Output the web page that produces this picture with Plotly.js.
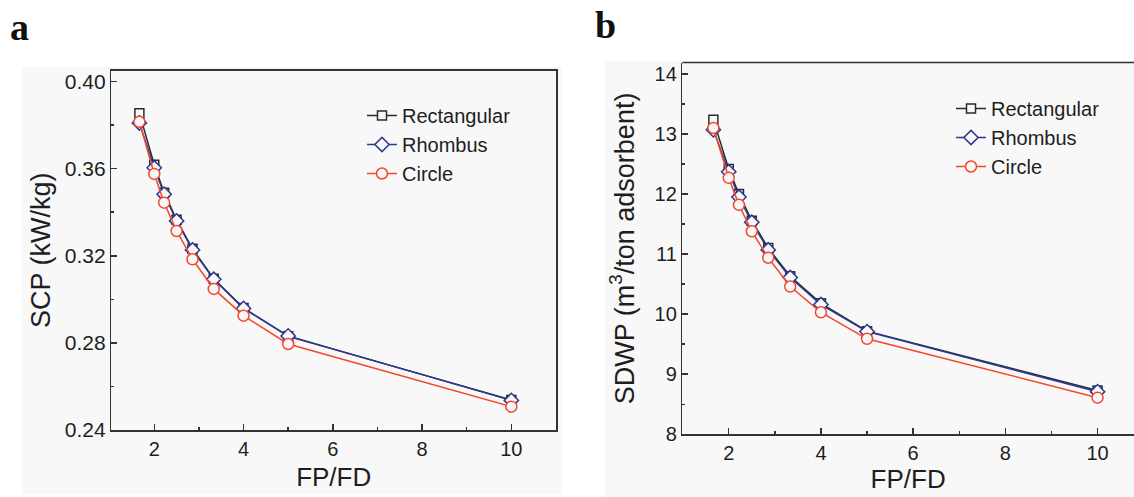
<!DOCTYPE html>
<html>
<head>
<meta charset="utf-8">
<script src="https://cdn.plot.ly/plotly-3.0.1.min.js"></script>
<style>html,body{margin:0;padding:0;background:#fff;}#chart{width:1134px;height:497px;}</style>
</head>
<body>
<div id="chart"></div>
<script>
// FP/FD ratios
const fpfd = [1.667, 2.0, 2.222, 2.5, 2.857, 3.333, 4.0, 5.0, 10.0];
// Panel a: SCP (kW/kg)
const scpRect    = [0.3855, 0.3618, 0.3490, 0.3365, 0.3232, 0.3095, 0.2960, 0.2830, 0.2538];
const scpRhombus = [0.3810, 0.3604, 0.3483, 0.3360, 0.3227, 0.3092, 0.2958, 0.2832, 0.2536];
const scpCircle  = [0.3815, 0.3576, 0.3444, 0.3314, 0.3184, 0.3048, 0.2925, 0.2795, 0.2507];
// Panel b: SDWP (m3/ton adsorbent)
const sdwpRect    = [13.235, 12.416, 12.00, 11.557, 11.10, 10.63, 10.18, 9.717, 8.73];
const sdwpRhombus = [13.07, 12.37, 11.95, 11.53, 11.07, 10.61, 10.16, 9.71, 8.71];
const sdwpCircle  = [13.10, 12.27, 11.82, 11.38, 10.94, 10.46, 10.03, 9.59, 8.61];
const seriesNames = ['Rectangular', 'Rhombus', 'Circle'];
const xTicks = [2, 4, 6, 8, 10];
const scpTicks = [0.24, 0.28, 0.32, 0.36, 0.40];
const scpTickText = ['0.24', '0.28', '0.32', '0.36', '0.40'];
const sdwpTicks = [8, 9, 10, 11, 12, 13, 14];

const W = 1134, H = 497;
const FONT = 'Liberation Sans, Arial, sans-serif';
const TXT = '#1e1e1e';
const BG = '#f8f8f8';
const colors = ['#2a2a2a', '#2b3990', '#f4472c'];
const symbols = ['square', 'diamond', 'circle'];
const msizes = [9, 11, 11];

function mk(y, i, xa, ya, leg) {
  return {
    x: fpfd, y: y, type: 'scatter', mode: 'lines+markers',
    name: seriesNames[i], xaxis: xa, yaxis: ya, legend: leg,
    line: {color: colors[i], width: 1.5},
    marker: {symbol: symbols[i], size: msizes[i], color: BG, line: {color: colors[i], width: 1.5}}
  };
}
const data = [
  mk(scpRect, 0, 'x', 'y', 'legend'),
  mk(scpRhombus, 1, 'x', 'y', 'legend'),
  mk(scpCircle, 2, 'x', 'y', 'legend'),
  mk(sdwpRect, 0, 'x2', 'y2', 'legend2'),
  mk(sdwpRhombus, 1, 'x2', 'y2', 'legend2'),
  mk(sdwpCircle, 2, 'x2', 'y2', 'legend2')
];

const px = v => v / W, py = v => 1 - v / H;
const axBase = {
  showgrid: false, zeroline: false, showline: true, linecolor: '#333', linewidth: 1.5,
  ticks: 'inside', ticklen: 6, tickwidth: 1.5, tickcolor: '#333',
  tickfont: {family: FONT, size: 20, color: TXT}, automargin: false
};
const layout = {
  width: W, height: H, paper_bgcolor: '#ffffff', plot_bgcolor: BG,
  margin: {l: 0, r: 0, t: 0, b: 0},
  showlegend: true,
  font: {family: FONT, color: TXT},
  xaxis: Object.assign({}, axBase, {
    domain: [px(111.4), px(556)], range: [1.04, 11.0], anchor: 'y',
    tickvals: xTicks, mirror: true,
    minor: {ticks: 'inside', ticklen: 3, tickwidth: 1.5, tickcolor: '#333', dtick: 1, tick0: 1},
    title: {text: 'FP/FD', font: {family: FONT, size: 26, color: TXT}, standoff: 9}
  }),
  yaxis: Object.assign({}, axBase, {
    domain: [py(430), py(70.7)], range: [0.24, 0.405], anchor: 'x',
    tickvals: scpTicks, ticktext: scpTickText, mirror: true,
    tickfont: {family: FONT, size: 21, color: TXT},
    minor: {ticks: 'inside', ticklen: 3, tickwidth: 1.5, tickcolor: '#333', dtick: 0.02, tick0: 0.24},
    title: {text: 'SCP (kW/kg)', font: {family: FONT, size: 27, color: TXT}, standoff: 6}
  }),
  xaxis2: Object.assign({}, axBase, {
    domain: [px(682.3), 1], range: [0.993, 10.79], anchor: 'y2',
    tickvals: xTicks, mirror: false,
    minor: {ticks: 'inside', ticklen: 3, tickwidth: 1.5, tickcolor: '#333', dtick: 1, tick0: 1},
    title: {text: 'FP/FD', font: {family: FONT, size: 26, color: TXT}, standoff: 7}
  }),
  yaxis2: Object.assign({}, axBase, {
    domain: [py(434.3), py(62.5)], range: [8, 14.19], anchor: 'x2',
    tickvals: sdwpTicks, mirror: false,
    minor: {ticks: 'inside', ticklen: 3, tickwidth: 1.5, tickcolor: '#333', dtick: 0.5, tick0: 8},
    title: {text: 'SDWP (m<sup>3</sup>/ton adsorbent)', font: {family: FONT, size: 27, color: TXT}, standoff: 12}
  }),
  legend: {x: px(362), y: py(96), xanchor: 'left', yanchor: 'top', bgcolor: 'rgba(0,0,0,0)',
           font: {family: FONT, size: 20, color: TXT}, tracegroupgap: 0},
  legend2: {x: px(951), y: py(89), xanchor: 'left', yanchor: 'top', bgcolor: 'rgba(0,0,0,0)',
            font: {family: FONT, size: 20, color: TXT}, tracegroupgap: 0},
  shapes: [
    {type: 'rect', xref: 'paper', yref: 'paper', x0: px(22), x1: px(562), y0: py(494), y1: py(67),
     fillcolor: BG, line: {width: 0}, layer: 'below'},
    {type: 'rect', xref: 'paper', yref: 'paper', x0: px(605), x1: 1, y0: py(497), y1: py(61),
     fillcolor: BG, line: {width: 0}, layer: 'below'},
    {type: 'line', xref: 'paper', yref: 'paper', x0: px(682.3), x1: 1, y0: py(62.5), y1: py(62.5),
     line: {color: '#333', width: 1.5}}
  ],
  annotations: [
    {text: '<b>a</b>', xref: 'paper', yref: 'paper', x: px(8), y: py(27), xanchor: 'left', yanchor: 'middle',
     showarrow: false, font: {family: 'Liberation Serif, Times New Roman, serif', size: 38, color: '#111'}},
    {text: '<b>b</b>', xref: 'paper', yref: 'paper', x: px(593), y: py(25), xanchor: 'left', yanchor: 'middle',
     showarrow: false, font: {family: 'Liberation Serif, Times New Roman, serif', size: 38, color: '#111'}}
  ]
};
Plotly.newPlot('chart', data, layout, {displayModeBar: false, staticPlot: true});
</script>
</body>
</html>
